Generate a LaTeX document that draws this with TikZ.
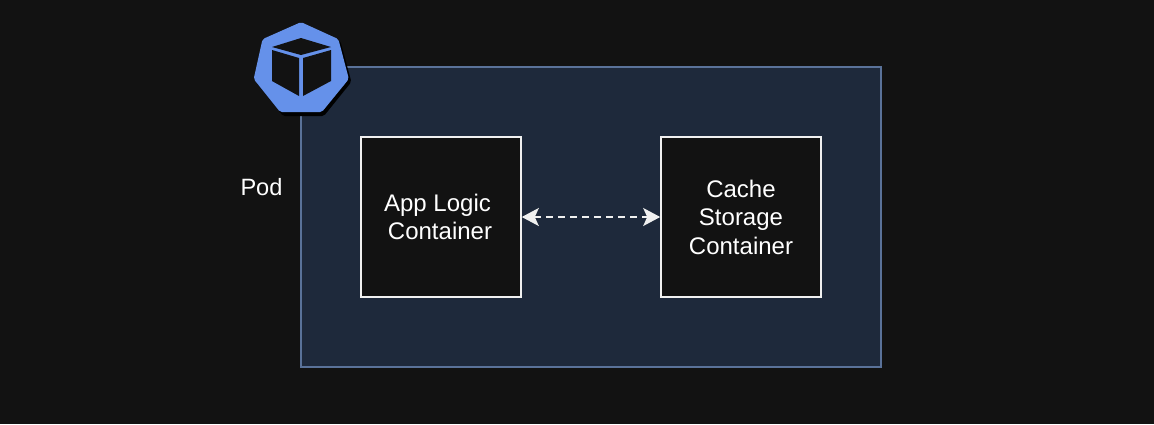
\documentclass[tikz,border=0pt]{standalone}
\usepackage{fontspec}
\setmainfont{Liberation Sans}
\usetikzlibrary{arrows.meta}
\definecolor{bgc}{HTML}{121212}
\definecolor{podfill}{HTML}{1E293B}
\definecolor{podline}{HTML}{5A7299}
\definecolor{kblue}{HTML}{6591EA}
\definecolor{inkc}{HTML}{F0F0F0}
\tikzset{
  containerbox/.style={draw=inkc,fill=bgc,line width=1.6pt,minimum width=160pt,minimum height=160pt,inner sep=0pt,align=center,text=white,font=\fontsize{24}{28.5}\selectfont},
  podbox/.style={draw=podline,fill=podfill,line width=1.3pt,minimum width=580pt,minimum height=300pt,inner sep=0pt},
  lbl/.style={text=white,font=\fontsize{23.6}{28}\selectfont,inner sep=0pt},
  link/.style={draw=inkc,line width=1.6pt,dash pattern=on 7pt off 5pt,{Stealth[length=17pt,width=18pt,inset=4pt]}-{Stealth[length=17pt,width=18pt,inset=4pt]}},
  heptagon/.style={line join=round,line width=8pt}
}
\begin{document}
\begin{tikzpicture}[x=1pt,y=-1pt]
\useasboundingbox (0,0) rectangle (1154,424);
\fill[bgc] (0,0) rectangle (1154,424);
\node[podbox] (pod) at (591,217) {};
\node[containerbox] (app) at (441,217) {App Logic\hspace*{7pt}\\Container\hspace*{2pt}};
\node[containerbox] (cache) at (741,217) {Cache\\Storage\\Container};
\node[lbl] (podlabel) at (261.5,187) {Pod};
\draw[link] (app.east) -- (cache.west);
% shadow
\filldraw[black,heptagon] (303,29) -- (337,44) -- (347,81) -- (322,112) -- (285,112) -- (260,81) -- (268,44) -- cycle;
% heptagon
\filldraw[kblue,heptagon] (301,26.5) -- (335,42) -- (344.5,78) -- (320,108) -- (282,108) -- (258,78) -- (266,42) -- cycle;
% cube
\fill[bgc] (301,38) -- (331,47) -- (301,55) -- (272,47) -- cycle;
\fill[bgc] (272,50) -- (299,58) -- (299,96) -- (272,81) -- cycle;
\fill[bgc] (331,50) -- (303,58) -- (303,96) -- (331,81) -- cycle;
\end{tikzpicture}
\end{document}
